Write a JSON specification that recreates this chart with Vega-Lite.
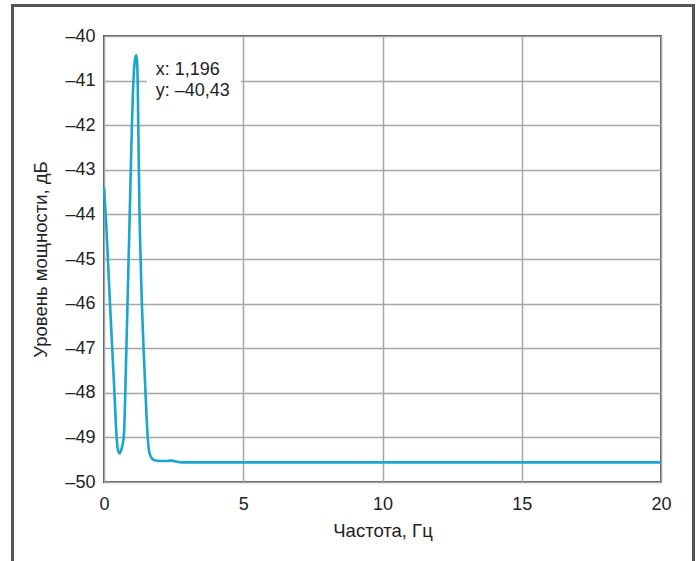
{
  "$schema": "https://vega.github.io/schema/vega-lite/v6.json",
  "width": 557,
  "height": 446,
  "autosize": {"type": "none"},
  "padding": {"left": 104, "top": 36, "right": 37, "bottom": 79},
  "background": "white",
  "config": {
    "font": "Liberation Sans",
    "view": {"stroke": "#555555", "strokeWidth": 2},
    "axis": {
      "domain": false,
      "ticks": false,
      "grid": true,
      "gridColor": "#a6a6a6",
      "gridWidth": 1.5,
      "labelFont": "Liberation Sans",
      "labelFontSize": 18,
      "labelColor": "#222222",
      "labelFlush": false,
      "labelOverlap": false,
      "titleFont": "Liberation Sans",
      "titleFontSize": 18.5,
      "titleFontWeight": "normal",
      "titleColor": "#222222"
    }
  },
  "data": {
    "values": [
      {"freq": 0, "db": -43.4},
      {"freq": 0.03, "db": -43.72},
      {"freq": 0.065, "db": -44.05},
      {"freq": 0.14, "db": -45.0},
      {"freq": 0.215, "db": -46.0},
      {"freq": 0.295, "db": -47.0},
      {"freq": 0.375, "db": -48.0},
      {"freq": 0.44, "db": -48.85},
      {"freq": 0.49, "db": -49.25},
      {"freq": 0.55, "db": -49.36},
      {"freq": 0.61, "db": -49.3},
      {"freq": 0.67, "db": -49.15},
      {"freq": 0.72, "db": -48.9},
      {"freq": 0.76, "db": -48.1},
      {"freq": 0.8, "db": -47.1},
      {"freq": 0.84, "db": -46.1},
      {"freq": 0.88, "db": -45.1},
      {"freq": 0.92, "db": -44.1},
      {"freq": 0.96, "db": -43.05},
      {"freq": 1.0, "db": -42.05},
      {"freq": 1.04, "db": -41.25},
      {"freq": 1.08, "db": -40.75},
      {"freq": 1.12, "db": -40.5},
      {"freq": 1.16, "db": -40.43},
      {"freq": 1.19, "db": -40.6},
      {"freq": 1.21, "db": -41.05},
      {"freq": 1.23, "db": -42.0},
      {"freq": 1.25, "db": -42.95},
      {"freq": 1.275, "db": -44.0},
      {"freq": 1.315, "db": -45.0},
      {"freq": 1.36, "db": -46.0},
      {"freq": 1.42, "db": -47.0},
      {"freq": 1.49, "db": -48.0},
      {"freq": 1.57, "db": -49.0},
      {"freq": 1.63, "db": -49.35},
      {"freq": 1.72, "db": -49.47},
      {"freq": 1.85, "db": -49.52},
      {"freq": 2.0, "db": -49.53},
      {"freq": 2.2, "db": -49.53},
      {"freq": 2.4, "db": -49.52},
      {"freq": 2.8, "db": -49.56},
      {"freq": 3.5, "db": -49.56},
      {"freq": 5, "db": -49.56},
      {"freq": 10, "db": -49.56},
      {"freq": 15, "db": -49.56},
      {"freq": 20, "db": -49.56}
    ]
  },
  "layer": [
    {
      "mark": {"type": "rect", "fill": null, "fillOpacity": 0, "stroke": "#555555", "strokeWidth": 2, "clip": false},
      "encoding": {
        "x": {"datum": -3.3, "type": "quantitative"},
        "x2": {"datum": 21.17},
        "y": {"datum": -39.317, "type": "quantitative"},
        "y2": {"datum": -53.5}
      }
    },
    {
      "mark": {"type": "line", "color": "#1aa6cf", "strokeWidth": 2.6, "interpolate": "monotone"},
      "encoding": {
        "x": {
          "field": "freq",
          "type": "quantitative",
          "scale": {"domain": [0, 20], "nice": false, "zero": false},
          "axis": {"values": [0, 5, 10, 15, 20], "title": "Частота, Гц", "labelPadding": 13, "titlePadding": 8, "format": "d"}
        },
        "y": {
          "field": "db",
          "type": "quantitative",
          "scale": {"domain": [-50, -40], "nice": false, "zero": false},
          "axis": {
            "values": [-50, -49, -48, -47, -46, -45, -44, -43, -42, -41, -40],
            "title": "Уровень мощности, дБ",
            "labelPadding": 9,
            "titlePadding": 14,
            "labelExpr": "'–' + format(abs(datum.value), 'd')"
          }
        }
      }
    },
    {
      "mark": {"type": "rect", "fill": "white", "stroke": null},
      "encoding": {
        "x": {"datum": 1.55, "type": "quantitative"},
        "x2": {"datum": 4.89},
        "y": {"datum": -40.5, "type": "quantitative"},
        "y2": {"datum": -41.45}
      }
    },
    {
      "data": {"values": [{"freq": 1.196, "db": -40.43}]},
      "mark": {
        "type": "text",
        "text": ["x: 1,196", "y: –40,43"],
        "align": "left",
        "baseline": "alphabetic",
        "dx": 18.4,
        "dy": 19.8,
        "lineHeight": 20.7,
        "fontSize": 18,
        "color": "#222222",
        "font": "Liberation Sans"
      },
      "encoding": {
        "x": {"field": "freq", "type": "quantitative"},
        "y": {"field": "db", "type": "quantitative"}
      }
    }
  ]
}
